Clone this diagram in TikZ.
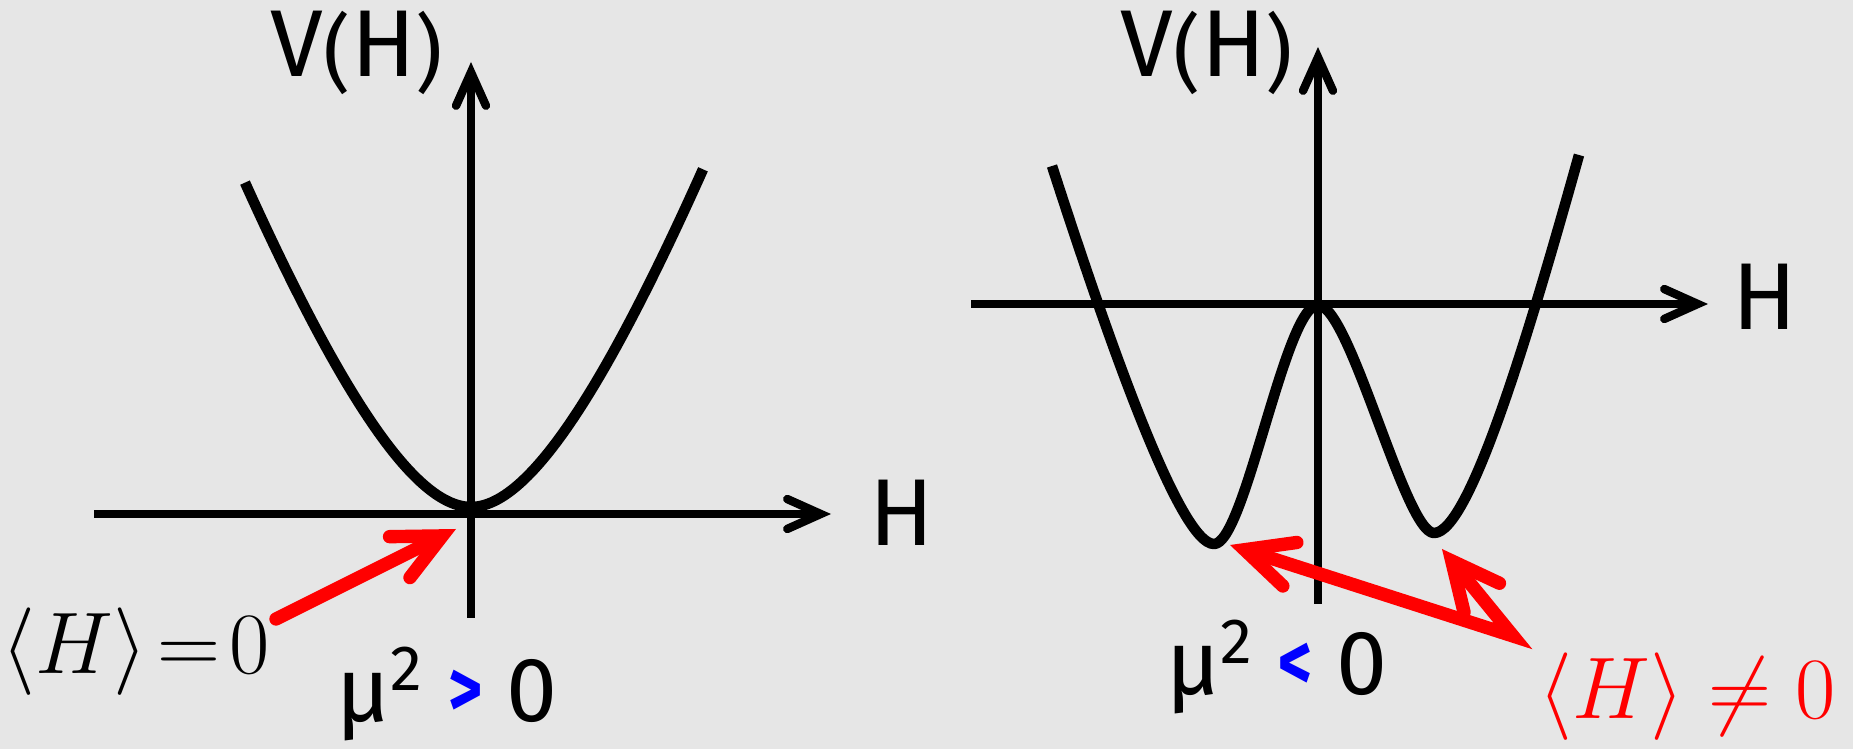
\documentclass[tikz,border=0pt]{standalone}
\usepackage{amsmath}
\usepackage{xcolor}
\usepackage{graphicx}
\usepackage{fontspec}
\setmainfont{Fira Sans}
\usepackage{tikz}
\usetikzlibrary{arrows.meta, positioning}
\definecolor{paper}{HTML}{E6E6E6}
\definecolor{vevred}{HTML}{FF0000}
\definecolor{signblue}{HTML}{0000FF}
\newcommand{\hpar}[1]{\raisebox{-0.06em}{\fontsize{24}{26}\selectfont #1}}
\newcommand{\hsign}[1]{\textcolor{signblue}{\raisebox{0.05em}{\scalebox{0.72}[0.9]{\textbf{#1}}}}}

\begin{document}
\begin{tikzpicture}[x=0.01cm, y=-0.01cm, >={Straight Barb[length=9.5pt, width=8.5pt, line cap=round]}]
    \tikzstyle{axis} = [draw, ->, line width=2.4pt]
    \tikzstyle{potential} = [draw, line width=3pt, line join=round]
    \tikzstyle{pointer} = [draw=vevred, line width=3.8pt, line cap=round, {Straight Barb[length=13.5pt, width=13pt, line cap=round]}-{Straight Barb[length=13.5pt, width=13pt, line cap=round]}]
    \tikzstyle{hand} = [font=\fontsize{27}{30}\selectfont, inner sep=0pt, anchor=base]
    \tikzstyle{cond} = [font=\fontsize{26}{30}\selectfont, inner sep=0pt, anchor=base]

    % background
    \fill[paper] (0,0) rectangle (1853,749);
    \useasboundingbox (0,0) rectangle (1853,749);

    % left: mu^2 > 0
    \coordinate (hl0) at (94,514);
    \coordinate (hl1) at (831,514);
    \coordinate (vl0) at (471,618);
    \coordinate (vl1) at (471,62);
    \path [axis] (hl0) -- (hl1);
    \path [axis] (vl0) -- (vl1);
    \path [potential] plot[domain=-226:232, samples=90, smooth] ({471+\x}, {507-117.6*(\x/100)*(\x/100)/(1+0.00377*abs(\x))});
    \node [hand] (vl) at (357,77) {V\hpar{(}H\hpar{)}};
    \node [hand] (hl) at (902,546) {H};
    \node [cond] (condl) at (447,722) {μ\textsuperscript{2} \hsign{>} 0};
    \node (vevl) at (136,652) {\fontsize{23}{26}\selectfont$\langle H\rangle\!=\!0$};
    \coordinate (tipl) at (456,529);
    \coordinate (taill) at (276,619);
    \path [draw=vevred, line width=3.8pt, line cap=round, -{Straight Barb[length=13.5pt, width=13pt, line cap=round]}] (taill) -- (tipl);

    % right: mu^2 < 0
    \coordinate (hr0) at (971,304);
    \coordinate (hr1) at (1708,304);
    \coordinate (vr0) at (1318,604);
    \coordinate (vr1) at (1318,47);
    \path [axis] (hr0) -- (hr1);
    \path [axis] (vr0) -- (vr1);
    \coordinate (wl) at (1052,166);
    \coordinate (minl) at (1214,544);
    \coordinate (top) at (1318,305);
    \coordinate (minr) at (1434,533);
    \coordinate (wr) at (1579,155);
    \path [potential] (wl) .. controls (1110,345) and (1180,544) .. (minl)
        .. controls (1245,544) and (1285,305) .. (top)
        .. controls (1350,305) and (1405,533) .. (minr)
        .. controls (1470,533) and (1530,330) .. (wr);
    \node [hand] (vr) at (1207,77) {V\hpar{(}H\hpar{)}};
    \node [hand] (hr) at (1765,330) {H};
    \node [cond] (condr) at (1277,695) {μ\textsuperscript{2} \hsign{<} 0};
    \node [text=vevred] (vevr) at (1687,697) {\fontsize{29}{32}\selectfont$\langle H\rangle\neq 0$};
    \coordinate (tipa) at (1230,545);
    \coordinate (tipb) at (1442,549);
    \coordinate (tailr) at (1513,636);
    \path [pointer, line join=miter] (tipa) -- (tailr) -- (tipb);
\end{tikzpicture}
\end{document}
